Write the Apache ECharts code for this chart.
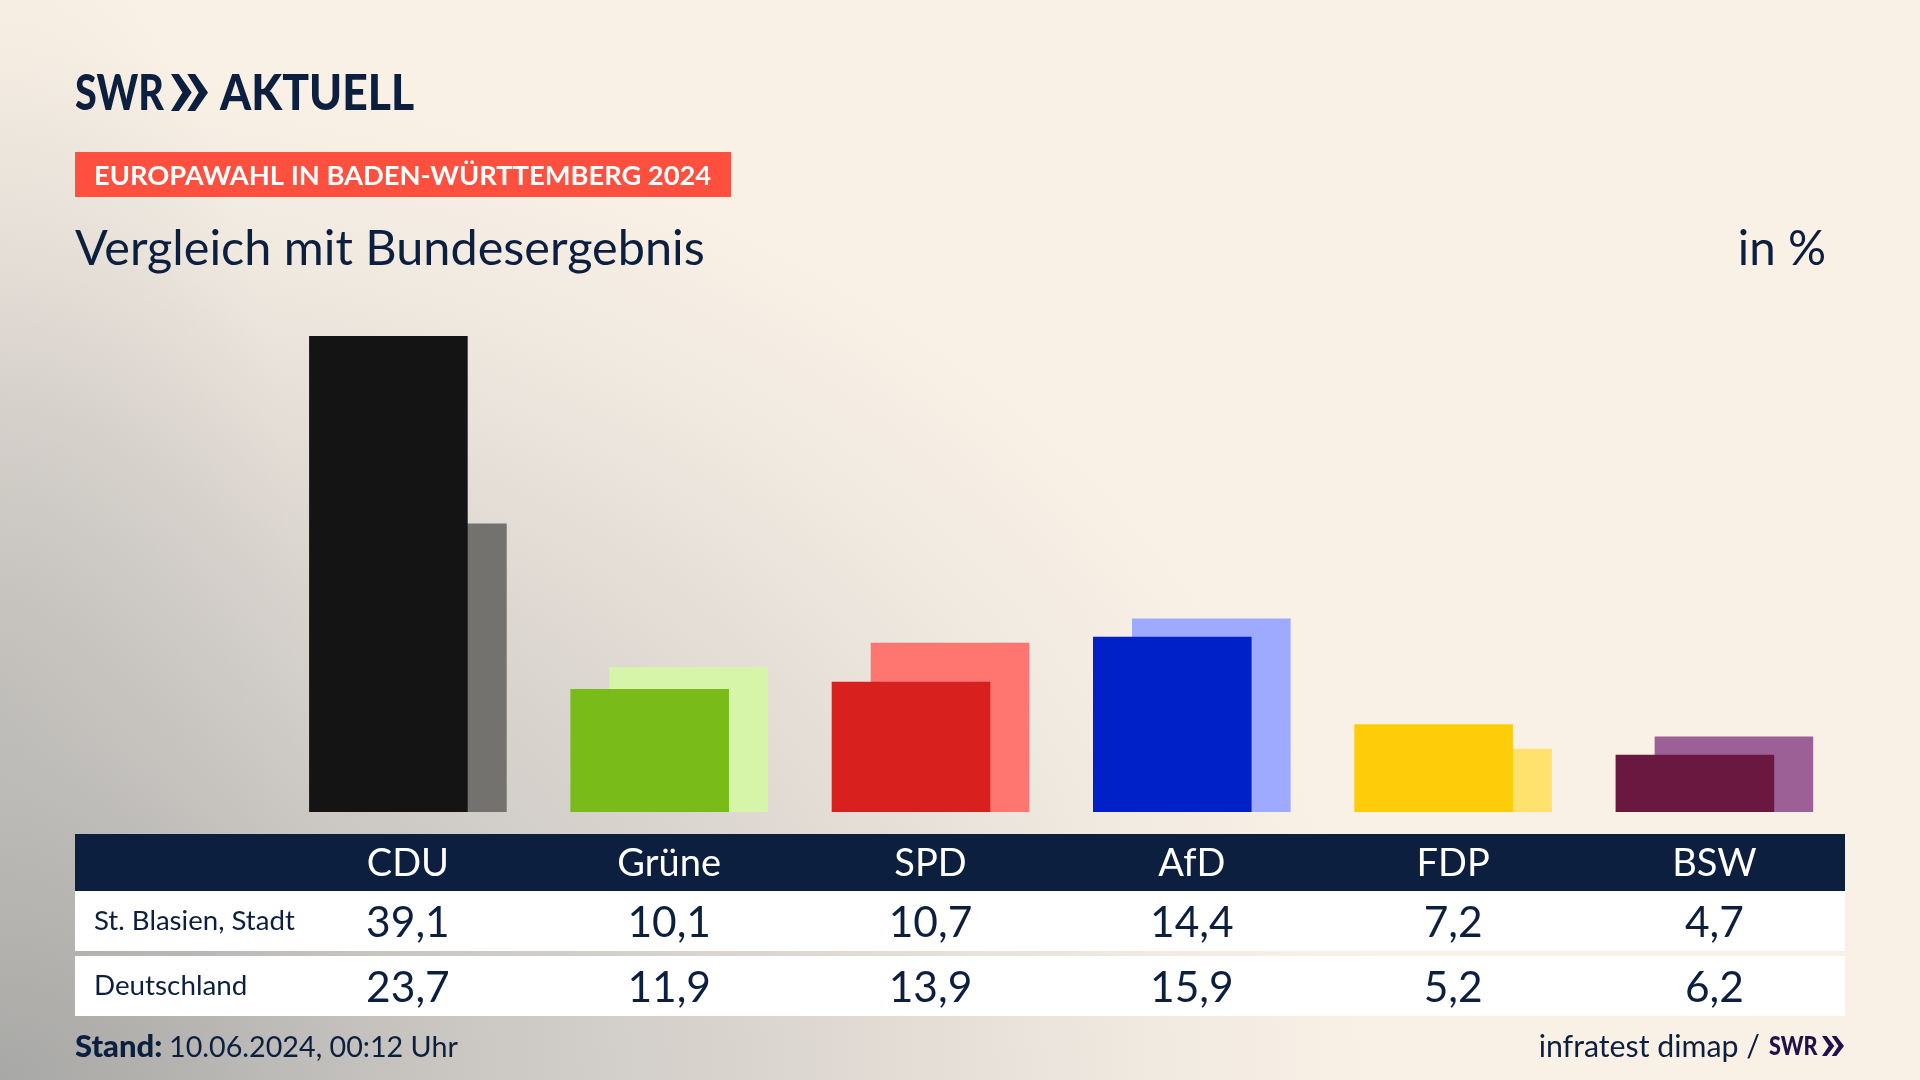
<!DOCTYPE html>
<html>
<head>
<meta charset="utf-8">
<title>Europawahl in Baden-Württemberg 2024</title>
<script src="https://cdn.jsdelivr.net/npm/echarts@6/dist/echarts.min.js"></script>
<style>
  html, body { margin: 0; height: 100%; background: #faf1e6; }
  #chart { width: 1920px; height: 1080px; }
</style>
</head>
<body>
<div id="chart"></div>
<script>
// Daten
const parties = ['CDU', 'Grüne', 'SPD', 'AfD', 'FDP', 'BSW']
const stBlasien = [39.1, 10.1, 10.7, 14.4, 7.2, 4.7]
const deutschland = [23.7, 11.9, 13.9, 15.9, 5.2, 6.2]
const rowNames = ['St. Blasien, Stadt', 'Deutschland']

const darkColors = ['#141414', '#79bc1a', '#d8201e', '#0020c8', '#ffcc0a', '#6a183f']
const lightColors = ['#73726f', '#d6f5a8', '#ff7570', '#9eaaff', '#ffe26e', '#9c6097']

const navy = '#0c1f3f'
const font = 'Lato, "Noto Sans", sans-serif'
const fmt = v => v.toFixed(1).replace('.', ',')

const chart = echarts.init(document.getElementById('chart'))

// Hintergrund, Tabelle und Texte
function rect(x, y, width, height, fill, z) {
  return { type: 'rect', z: z || -1, shape: { x, y, width, height }, style: { fill }, silent: true }
}
// y ist die Grundlinie des Textes
function text(str, x, y, size, opts, scaleX) {
  return {
    type: 'text', x, y: y - size * 0.33, z: 5, silent: true, scaleX: scaleX || 1,
    style: Object.assign({
      text: str, fontSize: size, fontFamily: font, fill: navy,
      align: 'left', verticalAlign: 'middle'
    }, opts || {})
  }
}
// SWR Pfeile
function chevrons(x, y, w, h, fill) {
  const part = w * 0.56
  return [0, w - part].map(dx => ({
    type: 'polygon', z: 5, silent: true,
    shape: {
      points: [
        [x + dx, y], [x + dx + part * 0.38, y], [x + dx + part, y + h / 2],
        [x + dx + part * 0.38, y + h], [x + dx, y + h], [x + dx + part * 0.55, y + h / 2]
      ]
    },
    style: { fill }
  }))
}

// grauer Verlauf von unten links, in x gestreckt
const background = rect(0, 0, 1422, 1080, {
  type: 'radial', x: 0, y: 1, r: 1.0,
  colorStops: [
    { offset: 0, color: '#a8a8a6' },
    { offset: 0.3, color: '#c9c6c2' },
    { offset: 0.55, color: '#dcd7d0' },
    { offset: 0.78, color: '#f0e9e0' },
    { offset: 0.95, color: '#faf1e6' },
    { offset: 1, color: '#faf1e6' }
  ]
}, -10)
background.scaleX = 1.35

// zusätzlicher Schatten am linken Rand
const leftShade = rect(0, 0, 800, 1080, {
  type: 'radial', x: 0, y: 0.65, r: 1,
  colorStops: [
    { offset: 0, color: 'rgba(168,168,166,0.35)' },
    { offset: 1, color: 'rgba(168,168,166,0)' }
  ]
}, -9)
leftShade.scaleX = 0.375

const elements = [
  background,
  leftShade,
  text('SWR', 75, 110, 50, { fontWeight: 900 }, 0.79),
  ...chevrons(171, 74, 37, 37, navy),
  text('AKTUELL', 220, 110, 50, { fontWeight: 900 }, 0.89),
  rect(75, 152, 656, 45, '#ff4f3e'),
  text('EUROPAWAHL IN BADEN-WÜRTTEMBERG 2024', 94, 185, 27.3, { fontWeight: 700, fill: '#fff' }),
  text('Vergleich mit Bundesergebnis', 75, 265.5, 48.6),
  text('in %', 1826, 265.5, 47.5, { align: 'right' }),
  rect(75, 834, 1770, 57, navy),
  rect(75, 891, 1770, 60, '#fff'),
  rect(75, 956, 1770, 60, '#fff'),
  text(rowNames[0], 94, 930, 27.6),
  text(rowNames[1], 94, 995, 27.8),
  text('Stand:', 75, 1057, 31, { fontWeight: 900 }),
  text('10.06.2024, 00:12 Uhr', 169, 1057, 28.7),
  text('infratest dimap /', 1760, 1057, 30.3, { align: 'right' }),
  text('SWR', 1769, 1055, 27, { fontWeight: 900, fill: '#22104a' }, 0.8),
  ...chevrons(1822, 1036, 22, 20, '#22104a')
]

// Tabellenzeilen als eigene Achsen
function rowAxis(labels, center, size, color) {
  return {
    type: 'category',
    data: labels,
    position: 'bottom',
    axisLine: { show: false },
    axisTick: { show: false },
    axisLabel: {
      interval: 0,
      margin: center - 812,
      color,
      fontSize: size,
      fontFamily: font,
      verticalAlign: 'middle'
    }
  }
}

const option = {
  animation: false,
  backgroundColor: 'transparent',
  graphic: { elements },
  grid: { left: 277.25, right: 74.95, top: 325, bottom: 268, containLabel: false },
  xAxis: [
    rowAxis(parties, 863.5, 38, '#fff'),
    rowAxis(stBlasien.map(fmt), 923, 42.5, navy),
    rowAxis(deutschland.map(fmt), 988.5, 42.5, navy)
  ],
  yAxis: { type: 'value', min: 0, max: 40, show: false },
  series: [
    {
      name: rowNames[0],
      type: 'bar',
      z: 3,
      barWidth: 158.6,
      barGap: '-75.4%',
      data: stBlasien.map((value, i) => ({ value, itemStyle: { color: darkColors[i] } }))
    },
    {
      name: rowNames[1],
      type: 'bar',
      z: 2,
      barWidth: 158.6,
      data: deutschland.map((value, i) => ({ value, itemStyle: { color: lightColors[i] } }))
    }
  ]
}

chart.setOption(option)
</script>
</body>
</html>
